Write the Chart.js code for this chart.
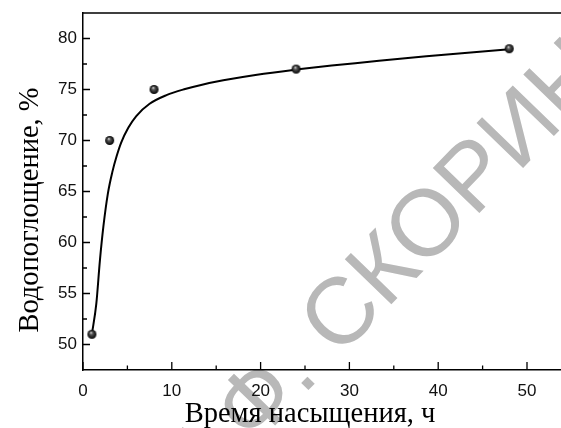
<!DOCTYPE html>
<html>
<head>
<meta charset="utf-8">
<script src="https://cdn.jsdelivr.net/npm/chart.js@4"></script>
<style>
  html, body { margin: 0; padding: 0; background: #fff; overflow: hidden; }
</style>
</head>
<body>
<canvas id="chart" width="600" height="428"></canvas>
<script>
// measured points
const dataX = [1, 3, 8, 24, 48];
const dataY = [51, 70, 75, 77, 79];

// fitted curve
const curveX = [1, 1.5, 1.9, 2.3, 2.8, 3.3, 3.8, 4.3, 5.1, 6.0, 7.5, 9.4, 11.5, 13.3, 15.8, 19.6, 24, 28, 32, 36, 40, 44, 48];
const curveY = [51, 54, 58.2, 61.6, 64.8, 66.9, 68.5, 69.8, 71.25, 72.4, 73.6, 74.45, 75.05, 75.45, 75.9, 76.45, 76.95, 77.35, 77.7, 78.05, 78.35, 78.65, 78.95];

const xTicks = [0, 10, 20, 30, 40, 50];
const yTicks = [50, 55, 60, 65, 70, 75, 80];

const xTitle = "Время насыщения, ч";
const yTitle = "Водопоглощение, %";
const watermark = "ГГУ ИМЕНИ Ф. СКОРИНЫ";

// little shaded ball used as point marker
function makeBall(r) {
  const c = document.createElement("canvas");
  c.width = c.height = r * 2 + 2;
  const g = c.getContext("2d");
  const cx = r + 1, cy = r + 1;
  const grad = g.createRadialGradient(cx - 1, cy - 1.8, 0, cx, cy, r);
  grad.addColorStop(0, "#e8e8e8");
  grad.addColorStop(0.35, "#555");
  grad.addColorStop(1, "#000");
  g.fillStyle = grad;
  g.beginPath();
  g.arc(cx, cy, r, 0, Math.PI * 2);
  g.fill();
  return c;
}

const watermarkPlugin = {
  id: "watermark",
  beforeDraw(chart) {
    const ctx = chart.ctx;
    ctx.save();
    ctx.font = '94px "Liberation Sans", Arial, sans-serif';
    ctx.fillStyle = "#b8b8b8";
    const pre = ctx.measureText("ГГУ ИМЕНИ ").width;
    const f = ctx.measureText("Ф").width;
    ctx.translate(254, 399);
    ctx.rotate(-46 * Math.PI / 180);
    ctx.textBaseline = "alphabetic";
    ctx.fillText(watermark, -(pre + f / 2), 33);
    ctx.restore();
  }
};

const framePlugin = {
  id: "frame",
  afterDraw(chart) {
    const ctx = chart.ctx;
    const a = chart.chartArea;
    const xs = chart.scales.x, ys = chart.scales.y;
    ctx.save();
    ctx.strokeStyle = "#000";
    ctx.lineWidth = 1.5;
    ctx.beginPath();
    ctx.moveTo(a.left, a.top);
    ctx.lineTo(a.right, a.top);
    ctx.lineTo(a.right, a.bottom);
    ctx.stroke();

    // inward ticks
    ctx.lineWidth = 1.3;
    ctx.beginPath();
    xTicks.forEach(v => {
      const px = xs.getPixelForValue(v);
      ctx.moveTo(px, a.bottom); ctx.lineTo(px, a.bottom - 8);
      const m = xs.getPixelForValue(v + (xTicks[1] - xTicks[0]) / 2);
      if (m < a.right) { ctx.moveTo(m, a.bottom); ctx.lineTo(m, a.bottom - 4.5); }
    });
    yTicks.forEach(v => {
      const py = ys.getPixelForValue(v);
      ctx.moveTo(a.left, py); ctx.lineTo(a.left + 7, py);
      const m = ys.getPixelForValue(v - (yTicks[1] - yTicks[0]) / 2);
      if (m < a.bottom) { ctx.moveTo(a.left, m); ctx.lineTo(a.left + 4, m); }
    });
    ctx.stroke();

    // axis titles
    ctx.fillStyle = "#000";
    ctx.font = '28.5px "Liberation Serif", "Times New Roman", serif';
    ctx.textAlign = "center";
    ctx.textBaseline = "alphabetic";
    ctx.fillText(xTitle, 310, 422);
    ctx.translate(38, 210);
    ctx.rotate(-Math.PI / 2);
    ctx.fillText(yTitle, 0, 0);
    ctx.restore();
  }
};

new Chart(document.getElementById("chart"), {
  type: "scatter",
  data: {
    datasets: [
      {
        type: "scatter",
        data: dataX.map((x, i) => ({ x: x, y: dataY[i] })),
        pointStyle: makeBall(4.5),
        pointRadius: 4.5,
        order: 0
      },
      {
        type: "line",
        data: curveX.map((x, i) => ({ x: x, y: curveY[i] })),
        borderColor: "#000",
        borderWidth: 2,
        pointRadius: 0,
        fill: false,
        cubicInterpolationMode: "monotone",
        order: 1
      }
    ]
  },
  options: {
    responsive: false,
    animation: false,
    layout: { padding: { left: 0, top: 13, right: 28.6, bottom: 0 } },
    plugins: { legend: { display: false }, tooltip: { enabled: false } },
    scales: {
      x: {
        type: "linear",
        min: 0,
        max: 55,
        afterFit: s => { s.height = 58; s.paddingLeft = 0; s.paddingRight = 0; },
        afterBuildTicks: s => { s.ticks = xTicks.map(v => ({ value: v })); },
        grid: { display: false, drawTicks: false },
        border: { display: true, color: "#000", width: 1.5 },
        ticks: {
          color: "#111",
          padding: 11,
          maxRotation: 0,
          font: { family: '"Liberation Sans", Arial, sans-serif', size: 17 }
        }
      },
      y: {
        type: "linear",
        min: 47.5,
        max: 82.5,
        afterFit: s => { s.width = 83; s.paddingTop = 0; s.paddingBottom = 0; },
        afterBuildTicks: s => { s.ticks = yTicks.map(v => ({ value: v })); },
        grid: { display: false, drawTicks: false },
        border: { display: true, color: "#000", width: 1.5 },
        ticks: {
          color: "#111",
          padding: 6,
          font: { family: '"Liberation Sans", Arial, sans-serif', size: 17 }
        }
      }
    }
  },
  plugins: [watermarkPlugin, framePlugin]
});
</script>
</body>
</html>
